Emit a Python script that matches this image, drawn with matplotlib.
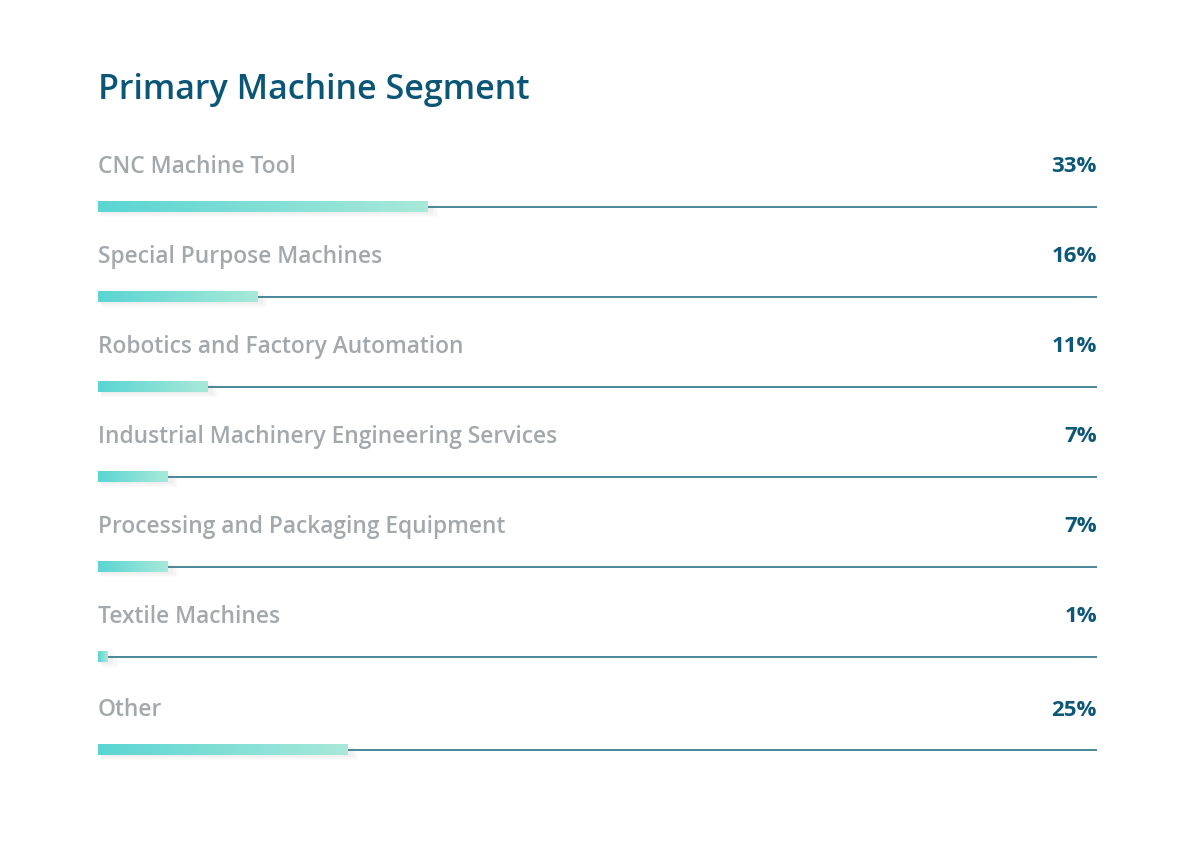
import numpy as np
import matplotlib
matplotlib.use('Agg')
import matplotlib.pyplot as plt
from matplotlib.colors import LinearSegmentedColormap
from matplotlib.patches import Rectangle

# Data
SEGMENTS = ["CNC Machine Tool", "Special Purpose Machines",
            "Robotics and Factory Automation",
            "Industrial Machinery Engineering Services",
            "Processing and Packaging Equipment", "Textile Machines", "Other"]
SHARES = [33, 16, 11, 7, 7, 1, 25]

# Layout (pixel rows of each bar centre)
ROW_Y = [207, 297, 387, 477, 567, 657, 750]
BAR_H = 11

TITLE_C = '#0b5676'
LABEL_C = '#a3a8ac'
PCT_C = '#0d5877'
LINE_C = '#3c7d92'
grad = LinearSegmentedColormap.from_list('bar', ['#5ad5d3', '#a8e9d9'])

plt.rcParams['font.family'] = ['Open Sans', 'DejaVu Sans']

fig = plt.figure(figsize=(12, 8.42), dpi=100)
fig.patch.set_facecolor('white')
left, right = 98 / 1200, 1097 / 1200
ax = fig.add_axes([left, 0, right - left, 1])
ax.set_xlim(0, 100)
ax.set_ylim(842, 0)
ax.axis('off')

fig.text(left, 1 - 90 / 842, "Primary Machine Segment", color=TITLE_C,
         fontsize=24.5, fontweight=600, va='center', ha='left')

for name, val, y in zip(SEGMENTS, SHARES, ROW_Y):
    # base line
    ax.plot([0, 100], [y, y], color=LINE_C, lw=1.3, zorder=1)
    # soft shadow
    for k, a in enumerate([0.05, 0.04, 0.03]):
        off = 1.5 + k * 1.5
        ax.add_patch(Rectangle((0.3, y - BAR_H / 2 + off), val + 0.25 * (k + 1), BAR_H,
                               facecolor='#808080', alpha=a, lw=0, zorder=2))
    # gradient bar
    ax.imshow(np.linspace(0, 1, 256).reshape(1, -1), cmap=grad, aspect='auto',
              extent=(0, val, y + BAR_H / 2, y - BAR_H / 2), zorder=3,
              interpolation='bilinear')
    ax.text(0, y - 40, name, color=LABEL_C, fontsize=16.4, fontweight=600,
            va='center', ha='left')
    ax.text(100, y - 40, f"{val}%", color=PCT_C, fontsize=16, fontweight='bold',
            va='center', ha='right')

ax.set_xlim(0, 100)
ax.set_ylim(842, 0)
fig.savefig('out.png', dpi=100, facecolor='white')
